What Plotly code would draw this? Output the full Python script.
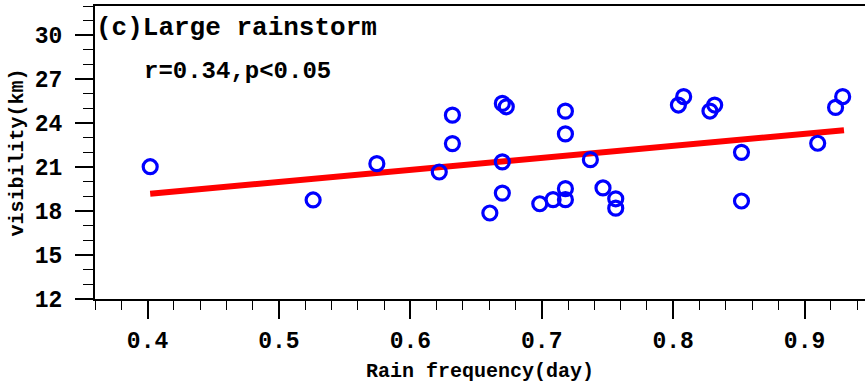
import plotly.graph_objects as go

# Data
rain_freq = [0.402, 0.526, 0.5745, 0.622, 0.632, 0.632, 0.6605, 0.670, 0.673, 0.670,
             0.670, 0.6985, 0.7086, 0.718, 0.718, 0.718, 0.718, 0.737, 0.7466, 0.7563,
             0.7563, 0.804, 0.808, 0.828, 0.8316, 0.852, 0.852, 0.910, 0.9236, 0.929]
visibility = [21.03, 18.76, 21.24, 20.67, 24.55, 22.61, 17.87, 25.35, 25.12, 21.36,
              19.23, 18.5, 18.78, 24.82, 23.27, 19.53, 18.78, 21.51, 19.58, 18.84,
              18.2, 25.24, 25.81, 24.83, 25.24, 22.01, 18.69, 22.63, 25.08, 25.81]
fit_x = [0.402, 0.930]
fit_y = [19.19, 23.52]

x_ticks = [0.4, 0.5, 0.6, 0.7, 0.8, 0.9]
x_ticklabels = ["0.4", "0.5", "0.6", "0.7", "0.8", "0.9"]
y_ticks = [12, 15, 18, 21, 24, 27, 30]
y_ticklabels = ["12", "15", "18", "21", "24", "27", "30"]

title_text = "(c)Large rainstorm"
stat_text = "r=0.34,p<0.05"
x_title = "Rain frequency(day)"
y_title = "visibility(km)"

FONT = "Liberation Mono"

fig = go.Figure()
fig.add_trace(go.Scatter(
    x=fit_x, y=fit_y, mode="lines",
    line=dict(color="#ff0000", width=6),
    showlegend=False, hoverinfo="skip"))
fig.add_trace(go.Scatter(
    x=rain_freq, y=visibility, mode="markers",
    marker=dict(symbol="circle-open", size=14, color="#0000ff",
                line=dict(color="#0000ff", width=3.2)),
    showlegend=False))

fig.update_layout(
    width=865, height=385,
    margin=dict(l=95, r=0, t=6, b=86),
    paper_bgcolor="white", plot_bgcolor="white",
    font=dict(family=FONT, color="black"),
    xaxis=dict(
        range=[0.36, 0.946],
        tickvals=x_ticks, ticktext=x_ticklabels,
        ticks="outside", ticklen=18, tickwidth=1.5, tickcolor="black",
        minor=dict(dtick=0.02, tick0=0.4, ticks="outside", ticklen=9,
                   tickwidth=1, tickcolor="black", showgrid=False),
        showline=True, linecolor="black", linewidth=2, mirror=True,
        showgrid=False, zeroline=False,
        tickfont=dict(family=FONT, size=23, weight="bold"),
        ticklabelstandoff=1,
        title=dict(text="<b>" + x_title + "</b>",
                   font=dict(family=FONT, size=20), standoff=9),
    ),
    yaxis=dict(
        range=[12, 32],
        tickvals=y_ticks, ticktext=y_ticklabels,
        ticks="outside", ticklen=18, tickwidth=1.5, tickcolor="black",
        minor=dict(dtick=1, tick0=12, ticks="outside", ticklen=10,
                   tickwidth=1, tickcolor="black", showgrid=False),
        showline=True, linecolor="black", linewidth=2, mirror=False,
        showgrid=False, zeroline=False,
        tickfont=dict(family=FONT, size=23, weight="bold"),
        ticklabelstandoff=8,
        title=dict(text="<b>" + y_title + "</b>",
                   font=dict(family=FONT, size=20), standoff=6),
    ),
    annotations=[
        dict(text="<b>" + title_text + "</b>", xref="paper", yref="paper",
             x=0.0, y=1.0, xanchor="left", yanchor="middle",
             xshift=-1, yshift=-22, showarrow=False,
             font=dict(family=FONT, size=26, color="black")),
        dict(text="<b>" + stat_text + "</b>", xref="paper", yref="paper",
             x=0.0, y=1.0, xanchor="left", yanchor="middle",
             xshift=47, yshift=-65, showarrow=False,
             font=dict(family=FONT, size=24, color="black")),
    ],
)

fig.write_html("out.html")
